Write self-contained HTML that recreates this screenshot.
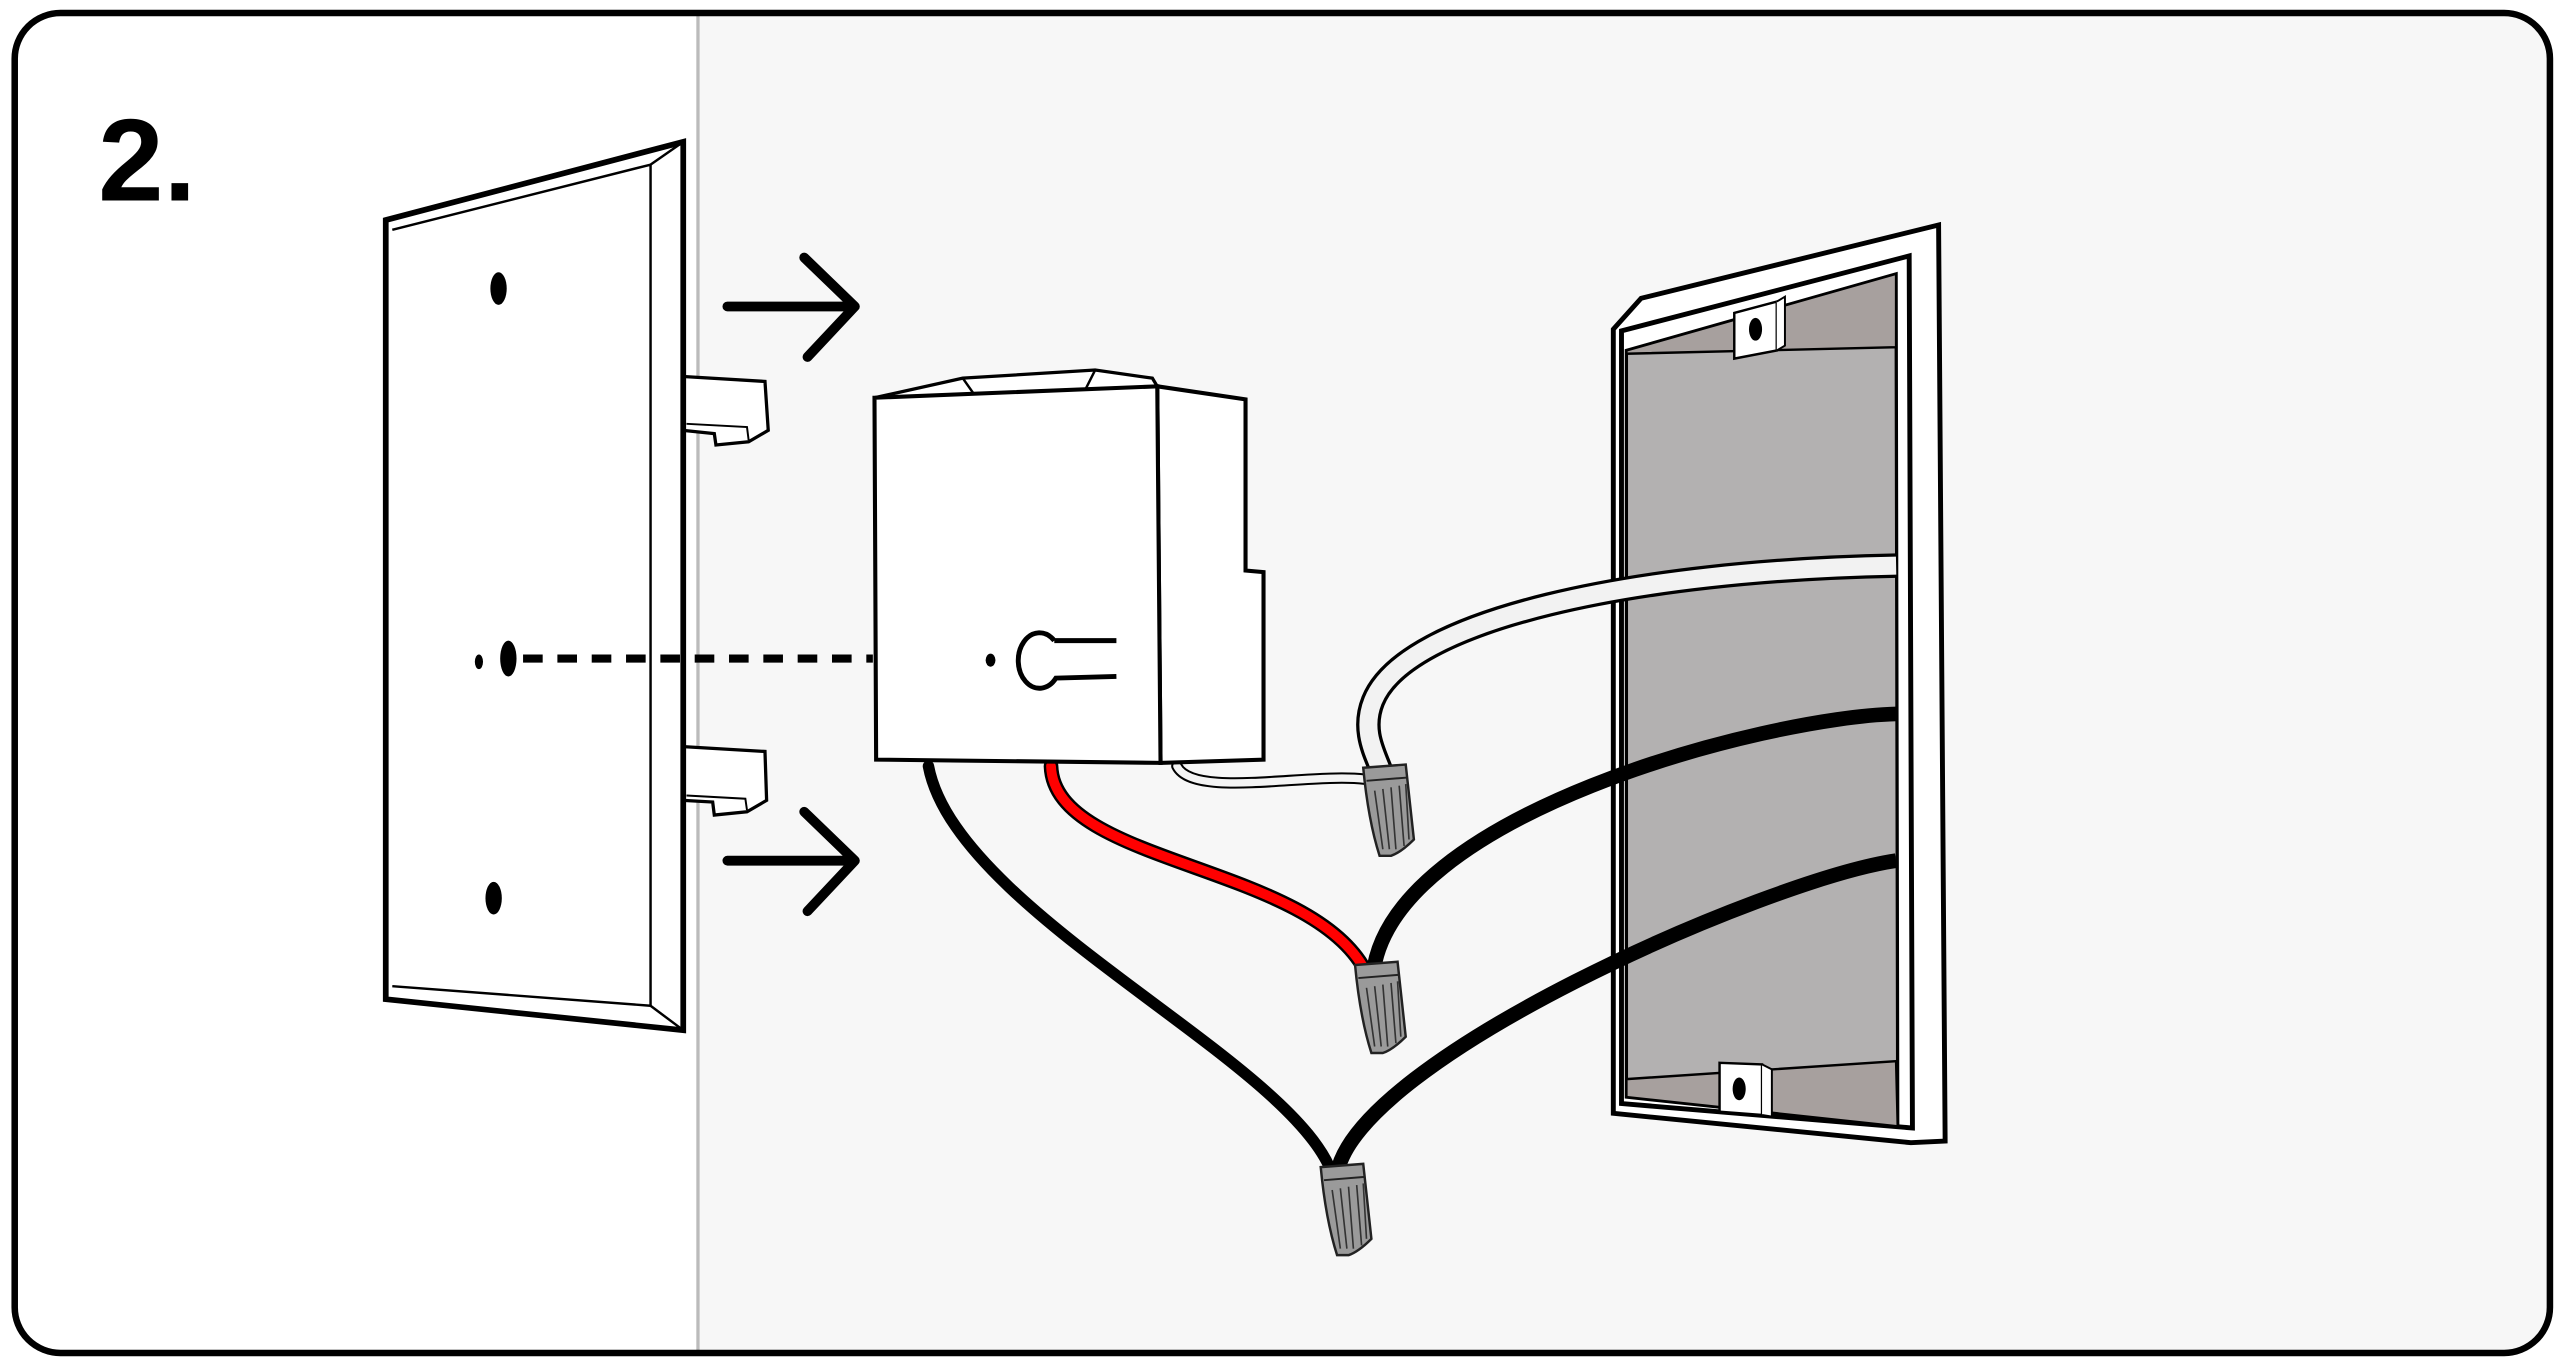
<!DOCTYPE html>
<html><head><style>html,body{margin:0;padding:0;background:#fff}svg{display:block}</style></head>
<body>
<svg width="2563" height="1366" viewBox="0 0 1568 838" preserveAspectRatio="none" xmlns="http://www.w3.org/2000/svg">
<defs>
<g id="nut">
<path d="M-13,-22 L13,-24 L18,22 Q10,30 4,32 L-3,32 Q-10,10 -13,-22 Z" fill="#9a9a9a" stroke="#222" stroke-width="1.5"/>
<path d="M-11,-14 L14,-16" stroke="#222" stroke-width="1.2" fill="none"/>
<path d="M-6,-8 L-1,28 M-1,-9 L3,28 M4,-10 L7,28 M9,-11 L12,26 M13,-12 L15,22" stroke="#333" stroke-width="1" fill="none"/>
</g>
</defs>
<rect x="9" y="8" width="1551" height="822" rx="28" fill="#f7f7f7"/>
<path d="M37,8 H427 V830 H37 Q9,830 9,802 V36 Q9,8 37,8 Z" fill="#fff"/>
<line x1="427" y1="8" x2="427" y2="830" stroke="#bbb" stroke-width="2"/>
<rect x="9" y="8" width="1551" height="822" rx="28" fill="none" stroke="#000" stroke-width="4"/>
<text x="60" y="123" font-family="Liberation Sans, sans-serif" font-size="72" font-weight="bold">2.</text>

<!-- tabs -->
<path d="M418,231 L468,234 L470,264 L458,271 L438,273 L437,266 L418,264" fill="#fff" stroke="#000" stroke-width="2"/>
<path d="M420,260 L457,262 L458,270" fill="none" stroke="#000" stroke-width="1.2"/>
<path d="M418,458 L468,461 L469,491 L457,498 L437,500 L436,492 L418,491" fill="#fff" stroke="#000" stroke-width="2"/>
<path d="M420,488 L456,490 L457,497" fill="none" stroke="#000" stroke-width="1.2"/>
<!-- plate -->
<path d="M236,135 L418,87 L418,632 L236,613 Z" fill="#fff" stroke="#000" stroke-width="3.5"/>
<path d="M240,141 L398,101 L398,617 L240,605" fill="none" stroke="#000" stroke-width="1.5"/>
<path d="M398,101 L418,87 M398,617 L418,632" stroke="#000" stroke-width="1.5"/>
<ellipse cx="305" cy="177" rx="5" ry="10"/>
<ellipse cx="302" cy="551" rx="5" ry="10"/>
<ellipse cx="311" cy="404" rx="5" ry="11"/>
<ellipse cx="293" cy="406" rx="2.5" ry="4.5"/>
<line x1="320" y1="404" x2="534" y2="404" stroke="#000" stroke-width="5" stroke-dasharray="12,9"/>
<!-- arrows -->
<g stroke="#000" stroke-width="6" fill="none" stroke-linecap="round" stroke-linejoin="round">
<path d="M445,188 H520 M492,158 L523,188 L494,219"/>
<path d="M445,528 H520 M492,498 L523,528 L494,559"/>
</g>

<!-- wires -->
<g fill="none" stroke-linecap="round">
<path d="M568,470 C585,560 790,650 815,720" stroke="#000" stroke-width="7"/>
<path d="M643,470 C645,530 800,530 835,595" stroke="#000" stroke-width="9"/>
<path d="M643,470 C645,530 800,530 835,595" stroke="#f00" stroke-width="6"/>
<path d="M720,470 C730,490 800,474 835,478" stroke="#000" stroke-width="7"/>
<path d="M720,470 C730,490 800,474 835,478" stroke="#f4f4f4" stroke-width="4.5"/>
</g>

<!-- switch box -->
<path d="M589,232 L670,227 L705,232 L708,237 L535,244 Z" fill="#fff" stroke="#000" stroke-width="2"/>
<path d="M589,232 L596,242 M670,227 L664,239" stroke="#000" stroke-width="1.5"/>
<path d="M708,237 L762,245 L762,350 L773,351 L773,466 L710,468 Z" fill="#fff" stroke="#000" stroke-width="2.5"/>
<path d="M535,244 L708,237 L710,468 L536,466 Z" fill="#fff" stroke="#000" stroke-width="2.5"/>
<path d="M645,393 A13,17 0 1 0 646,416 L683,415 M645,393 L683,393" fill="none" stroke="#000" stroke-width="3"/>
<ellipse cx="606" cy="405" rx="3" ry="4"/>

<!-- wall box -->
<path d="M987,202 L1004,183 L1186,138 L1190,700 L1169,701 L987,683 Z" fill="#fff" stroke="#000" stroke-width="3"/>
<path d="M992,203 L1168,157 L1170,692 L992,677 Z" fill="#fff" stroke="#000" stroke-width="3"/>
<path d="M995,215 L1160,168 L1161,691 L995,673 Z" fill="#b3b1b1" stroke="#000" stroke-width="2"/>
<path d="M995,215 L1160,168 L1160,213 L995,217 Z" fill="#a7a09e" stroke="#000" stroke-width="1.5"/>
<path d="M995,662 L1160,651 L1161,691 L995,673 Z" fill="#a7a09e" stroke="#000" stroke-width="1.5"/>
<path d="M1061,192 L1087,185 L1087,215 L1061,220 Z" fill="#fff" stroke="#000" stroke-width="1.5"/>
<path d="M1087,185 L1092,182 L1092,212 L1087,215" fill="#fff" stroke="#000" stroke-width="1.2"/>
<ellipse cx="1074" cy="202" rx="4" ry="7"/>
<path d="M1052,652 L1078,653 L1078,684 L1052,682 Z" fill="#fff" stroke="#000" stroke-width="1.5"/>
<path d="M1078,653 L1084,656 L1084,685 L1078,684" fill="#fff" stroke="#000" stroke-width="1.2"/>
<ellipse cx="1064" cy="668" rx="4" ry="7"/>

<g fill="none" stroke-linecap="butt">
<path d="M1160,347 C1000,350 860,380 840,430 C832,450 843,465 846,476" stroke="#000" stroke-width="15"/>
<path d="M1160,347 C1000,350 860,380 840,430 C832,450 843,465 846,476" stroke="#f2f2f2" stroke-width="11"/>
<path d="M1160,438 C1080,440 850,500 840,598" stroke="#000" stroke-width="9"/>
<path d="M1160,528 C1080,540 830,650 818,720" stroke="#000" stroke-width="9"/>
</g>

<use href="#nut" x="847" y="493"/>
<use href="#nut" x="842" y="614"/>
<use href="#nut" x="821" y="738"/>
</svg>
</body></html>
